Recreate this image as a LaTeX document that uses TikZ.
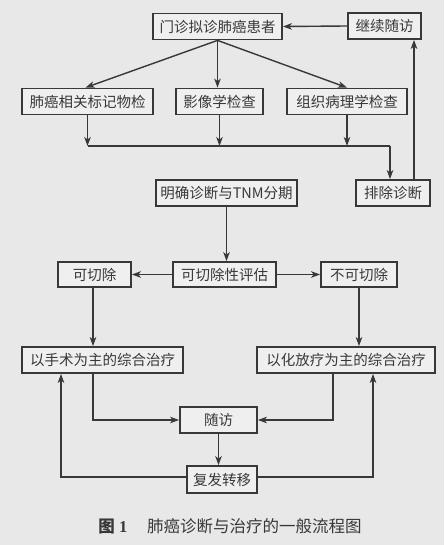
\documentclass[tikz,border=0pt]{standalone}
\usepackage{fontspec}
\setmainfont{Liberation Serif}
\newfontfamily\cjk{Noto Sans CJK SC}
\usetikzlibrary{arrows.meta,calc}
\definecolor{bgc}{HTML}{E8E8E8}
\definecolor{boxc}{HTML}{EFEFEF}
\definecolor{inkc}{HTML}{383838}
\begin{document}
\begin{tikzpicture}[x=1pt,y=-1pt,
  box/.style={draw=inkc,line width=1.8pt,fill=boxc,inner sep=0pt,text=inkc,
    font=\cjk\fontsize{14.5}{16}\selectfont,minimum height=26pt},
  arr/.style={draw=inkc,line width=1.4pt,-{Stealth[length=9pt,width=6.5pt,inset=2.5pt]}},
  ln/.style={draw=inkc,line width=1.4pt}]
\fill[bgc] (0,0) rectangle (444,545);
\useasboundingbox (0,0) rectangle (444,545);
\node[box,minimum width=129pt] (mz) at (217.5,26.5) {门诊拟诊肺癌患者};
\node[box,minimum width=73pt] (jx) at (384.5,26) {继续随访};
\node[box,minimum width=131pt] (fa) at (87.5,101.5) {肺癌相关标记物检};
\node[box,minimum width=87pt] (yx) at (219.5,101.5) {影像学检查};
\node[box,minimum width=120pt] (zz) at (347,101.5) {组织病理学检查};
\node[box,minimum width=74pt] (pc) at (393,193) {排除诊断};
\node[box,minimum width=141pt] (mq) at (226.5,193) {明确诊断与TNM分期};
\node[box,minimum width=103pt,minimum height=25pt] (pg) at (224.5,274.5) {可切除性评估};
\node[box,minimum width=73pt,minimum height=25pt] (kq) at (94.5,274.5) {可切除};
\node[box,minimum width=76pt,minimum height=25pt] (bk) at (359,274.5) {不可切除};
\node[box,minimum width=161pt] (ss) at (102.5,360) {以手术为主的综合治疗};
\node[box,minimum width=178pt] (hf) at (346,360) {以化放疗为主的综合治疗};
\node[box,minimum width=77pt] (sf) at (218.5,420) {随访};
\node[box,minimum width=70pt,minimum height=27pt] (ff) at (222,479.5) {复发转移};
\node[text=inkc,font=\fontsize{16.5}{18}\selectfont] (cap) at (230,526)
  {\textbf{\cjk 图} \textbf{1}\hspace{1.2em}{\cjk 肺癌诊断与治疗的一般流程图}};
% top part
\draw[arr] (jx.west) -- (mz.east);
\draw[arr] (mz.south) -- ([xshift=-2pt]fa.north);
\draw[arr] (mz.south) -- (yx.north -| mz.south);
\draw[arr] (mz.south) -- (zz.north);
\coordinate (jl) at (0,146);
\draw[arr] (fa.south) -- (fa.south |- jl);
\draw[arr] (yx.south) -- (yx.south |- jl);
\draw[arr] (zz.south) -- (zz.south |- jl);
\coordinate (jr) at (390,146);
\draw[ln] (fa.south |- jl) -- (jr);
\draw[arr] (jr) -- (pc.north -| jr);
\coordinate (rx) at (414,0);
\draw[arr] (pc.north -| rx) -- (jx.south -| rx);
% middle
\draw[arr] (mq.south) -- (pg.north -| mq.south);
\draw[arr] (pg.west) -- (kq.east);
\draw[arr] (pg.east) -- (bk.east -| bk.west);
\draw[arr] ([xshift=-1.5pt]kq.south) -- ([xshift=-1.5pt]kq.south |- ss.north);
\draw[arr] (bk.south) -- (bk.south |- hf.north);
% bottom
\coordinate (sl) at (93,0);
\coordinate (hr) at (333,0);
\draw[arr] (ss.south -| sl) -- (sl |- sf.west) -- (sf.west);
\draw[arr] (hf.south -| hr) -- (hr |- sf.east) -- (sf.east);
\draw[arr] (sf.south) -- (sf.south |- ff.north);
\coordinate (fl) at (61,477);
\coordinate (fr) at (373,477);
\draw[arr] (ff.west |- fl) -- (fl) -- (fl |- ss.south);
\draw[arr] (ff.east |- fr) -- (fr) -- (fr |- hf.south);
\end{tikzpicture}
\end{document}
